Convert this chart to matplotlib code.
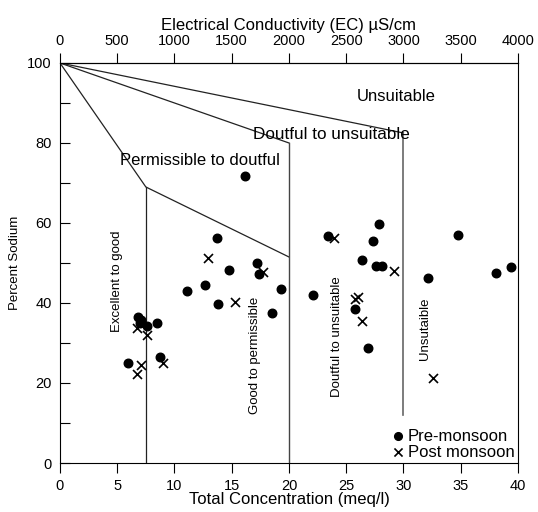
import numpy as np
import matplotlib.pyplot as plt
from matplotlib.ticker import MultipleLocator, FixedLocator

plt.rcParams['font.family'] = ['Liberation Sans', 'DejaVu Sans']

# Pre-monsoon samples: total concentration (meq/l), percent sodium
pre_tc = [16.2, 13.7, 14.8, 17.2, 17.4, 11.1, 12.7, 13.8, 19.3, 18.5,
          23.4, 22.1, 6.8, 7.1, 7.0, 7.6, 8.5, 5.9, 8.7, 27.9,
          27.3, 26.4, 27.6, 28.1, 25.8, 26.9, 34.8, 32.1, 38.1, 39.4]
pre_na = [71.8, 56.3, 48.2, 50.1, 47.3, 43.0, 44.4, 39.8, 43.6, 37.4,
          56.8, 42.0, 36.6, 35.8, 34.9, 34.3, 35.0, 24.9, 26.4, 59.7,
          55.6, 50.7, 49.2, 49.2, 38.4, 28.7, 57.0, 46.3, 47.6, 49.0]

# Post monsoon samples
post_tc = [6.7, 7.6, 7.1, 6.7, 9.0, 12.9, 17.7, 15.3, 23.9, 29.2,
           26.0, 25.8, 26.4, 32.6]
post_na = [33.7, 32.0, 24.5, 22.2, 25.1, 51.3, 47.8, 40.3, 56.2, 48.1,
           41.4, 41.0, 35.6, 21.2]

# EC ticks on the top axis
ec_ticks = [0, 500, 1000, 1500, 2000, 2500, 3000, 3500, 4000]

# Wilcox class boundaries
b1_x, b1_y = [0, 7.5, 20], [100, 69, 51.5]
b2_x, b2_y = [0, 20], [100, 80]
b3_x, b3_y = [0, 30], [100, 82.5]

fig = plt.figure(figsize=(5.38, 5.12), dpi=100)
ax = fig.add_axes([0.1115, 0.0957, 0.8513, 0.7813])

ax.plot(b1_x, b1_y, color='#222222', lw=0.9)
ax.plot(b2_x, b2_y, color='#222222', lw=0.9)
ax.plot(b3_x, b3_y, color='#222222', lw=0.9)
ax.plot([7.5, 7.5], [0, 69], color='#222222', lw=0.9)
ax.plot([20, 20], [0, 80], color='#444444', lw=1.0)
ax.plot([30, 30], [12, 82.5], color='#666666', lw=1.2)

ax.scatter(pre_tc, pre_na, s=38, marker='o', color='black', zorder=3,
           label='Pre-monsoon')
ax.scatter(post_tc, post_na, s=42, marker='x', color='black', lw=1.2,
           zorder=3, label='Post monsoon')

ax.text(29.4, 91.5, 'Unsuitable', fontsize=12, ha='center', va='center')
ax.text(16.9, 82, 'Doutful to unsuitable', fontsize=12.3, ha='left', va='center')
ax.text(5.2, 75.7, 'Permissible to doutful', fontsize=12, ha='left', va='center')
ax.text(5.0, 45.5, 'Excellent to good', fontsize=9.5, rotation=90,
        ha='center', va='center')
ax.text(17.0, 27, 'Good to permissible', fontsize=9.5, rotation=90,
        ha='center', va='center')
ax.text(24.2, 31.5, 'Doutful to unsuitable', fontsize=9.5, rotation=90,
        ha='center', va='center')
ax.text(31.9, 33.5, 'Unsutaible', fontsize=9.5, rotation=90,
        ha='center', va='center')

ax.set_xlim(0, 40)
ax.set_ylim(0, 100)
ax.xaxis.set_major_locator(MultipleLocator(5))
ax.yaxis.set_major_locator(MultipleLocator(20))
ax.yaxis.set_minor_locator(MultipleLocator(10))
ax.tick_params(axis='x', direction='out', length=7.5, width=0.8,
               labelsize=10.5, pad=4)
ax.tick_params(axis='y', which='both', direction='in', length=7, width=0.8,
               labelsize=10.5, pad=6)
for sp in ax.spines.values():
    sp.set_linewidth(0.8)

ax.set_xlabel('Total Concentration (meq/l)', fontsize=12, labelpad=-1)
ax.set_ylabel('Percent Sodium', fontsize=9.5, labelpad=4)

sec = ax.secondary_xaxis('top', functions=(lambda v: v * 100, lambda v: v / 100))
sec.xaxis.set_major_locator(FixedLocator(ec_ticks))
sec.tick_params(direction='out', length=7.5, width=0.8, labelsize=10.5, pad=3)
sec.set_xlabel('Electrical Conductivity (EC) µS/cm', fontsize=12, labelpad=3)

ax.legend(loc='lower right', frameon=False, fontsize=12, handlelength=0.6,
          handletextpad=0.3, labelspacing=0.05, borderaxespad=0.1,
          borderpad=0.1, markerscale=0.9)

fig.savefig('out.png', dpi=100)
